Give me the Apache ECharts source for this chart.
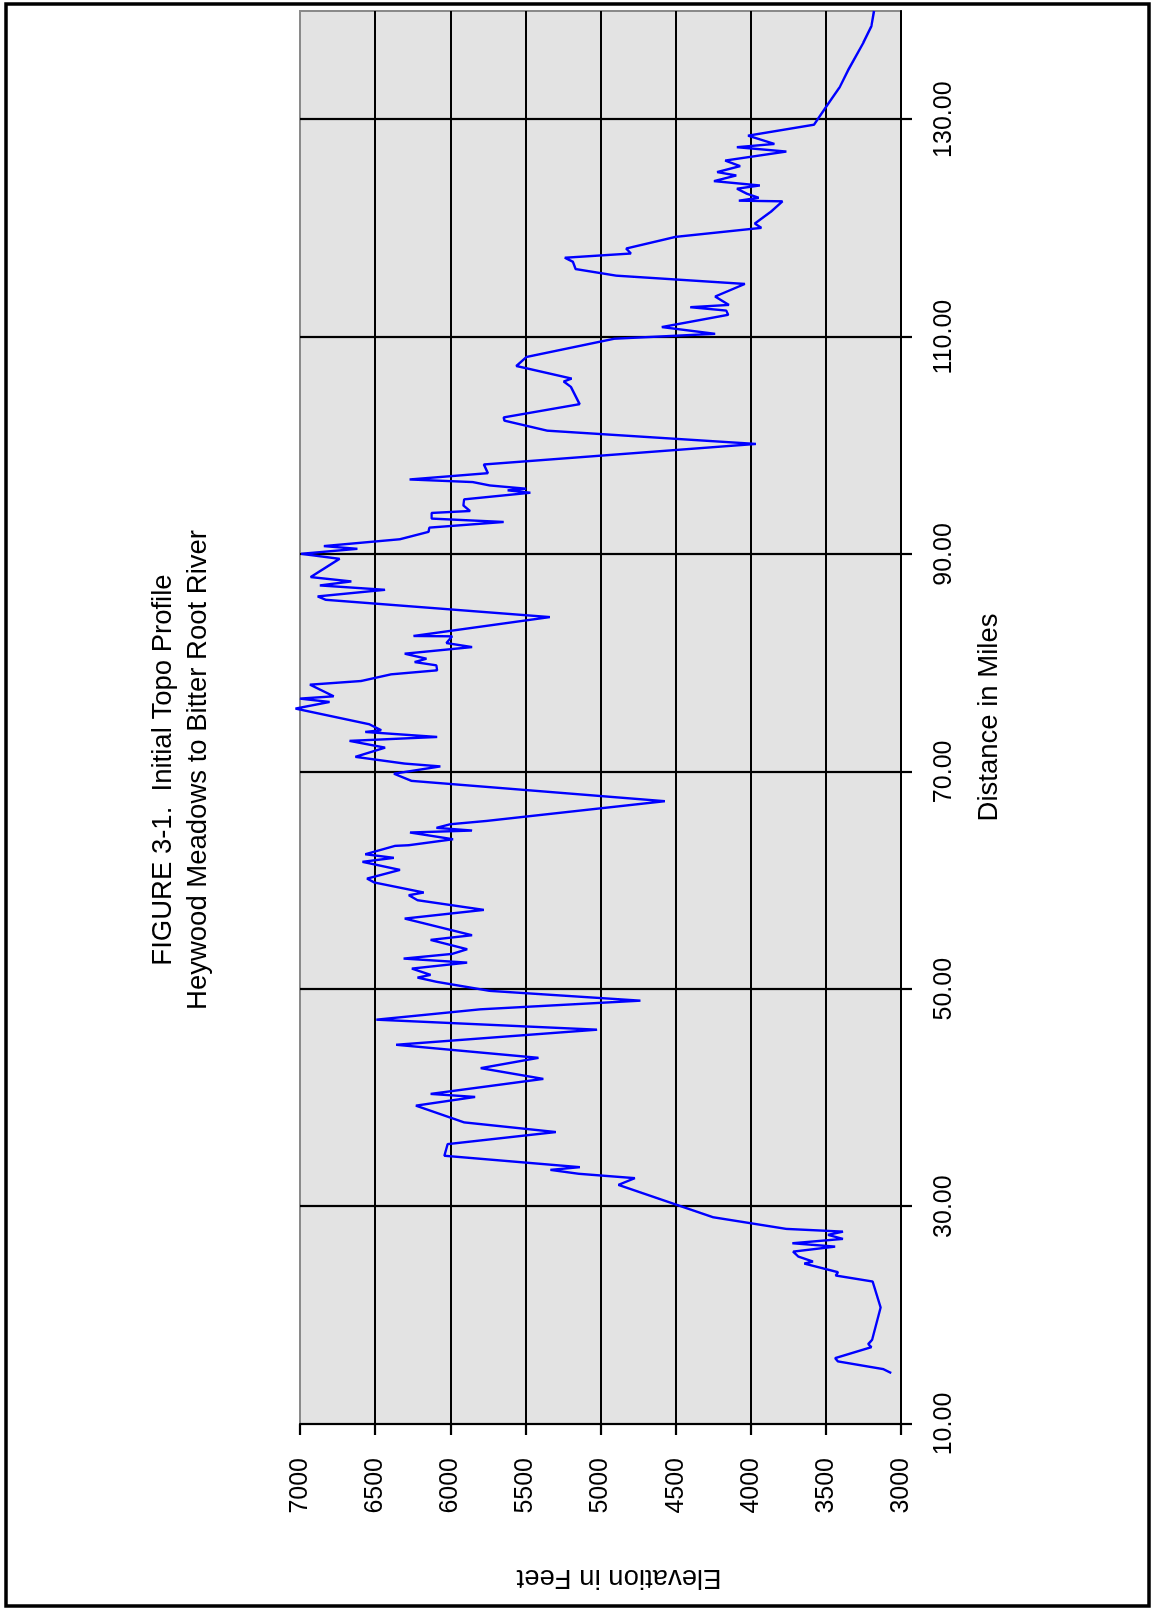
<!DOCTYPE html>
<html>
<head>
<meta charset="utf-8">
<script src="https://cdn.jsdelivr.net/npm/echarts@6/dist/echarts.min.js"></script>
<style>
html, body { margin: 0; padding: 0; background: #ffffff; overflow: hidden; width: 1153px; height: 1608px; }
#chart { position: absolute; left: 0; top: 0; width: 1608px; height: 1153px;
  transform-origin: 0 0; transform: translate(0, 1608px) rotate(-90deg); }
</style>
</head>
<body>
<div id="chart"></div>
<script>
// Distance along the route (miles) and ground elevation (feet), read from the profile
const distance = [
  14.69, 15.05, 15.76, 16.06, 17.07, 17.35, 17.75, 20.72, 23.11, 23.66,
  23.97, 24.76, 24.95, 25.41, 25.86, 26.32, 26.63, 27.03, 27.40, 27.70,
  27.95, 29.02, 32.00, 32.62, 33.02, 33.38, 33.63, 34.68, 35.75, 36.86,
  37.75, 39.29, 40.09, 40.37, 41.75, 42.74, 43.69, 44.89, 46.28, 47.20,
  48.15, 48.95, 49.85, 50.68, 51.07, 51.32, 51.90, 52.45, 52.82, 53.25,
  53.68, 54.54, 54.97, 56.50, 57.30, 58.19, 58.65, 58.90, 59.82, 60.18,
  60.98, 61.72, 62.09, 62.42, 63.19, 63.25, 63.80, 64.42, 64.60, 64.85,
  65.18, 65.49, 67.30, 69.17, 69.83, 70.50, 70.76, 71.38, 72.23, 72.85,
  73.21, 73.67, 73.83, 74.38, 75.82, 76.43, 76.74, 76.95, 78.02, 78.36,
  78.97, 79.34, 79.80, 80.10, 80.41, 80.87, 81.48, 81.85, 82.47, 82.50,
  84.24, 85.83, 86.14, 86.75, 87.15, 87.52, 87.92, 89.60, 90.06, 90.52,
  90.77, 91.40, 92.08, 92.47, 92.99, 93.30, 93.82, 94.00, 94.52, 95.07,
  95.68, 95.90, 96.05, 96.35, 96.66, 96.90, 97.48, 98.28, 100.17, 101.39,
  102.31, 102.61, 103.83, 105.42, 105.91, 106.18, 107.34, 108.17, 109.85, 110.30,
  110.92, 112.05, 112.44, 112.75, 112.96, 113.73, 114.89, 115.65, 116.26, 116.93,
  117.30, 117.69, 118.15, 119.22, 120.05, 120.44, 121.51, 122.49, 122.55, 122.82,
  123.19, 123.65, 123.95, 124.35, 124.87, 125.18, 125.73, 126.24, 127.07, 127.47,
  127.77, 128.53, 129.54, 131.44, 133.00, 134.60, 137.10, 138.60, 140.00
];
const elevation = [
  3065, 3118, 3420, 3439, 3197, 3218, 3192, 3136, 3189, 3434,
  3420, 3644, 3586, 3684, 3718, 3439, 3723, 3386, 3486, 3386,
  3763, 4250, 4881, 4771, 5144, 5334, 5137, 6039, 6018, 5297,
  5908, 6229, 5834, 6131, 5381, 5797, 5413, 6360, 5023, 6492,
  5802, 4734, 5737, 6090, 6218, 6131, 6255, 5887, 6310, 5987,
  5887, 6131, 5855, 6303, 5776, 6218, 6276, 6176, 6505, 6553,
  6334, 6584, 6376, 6566, 6368, 6276, 5981, 6268, 5855, 6092,
  6000, 5755, 4571, 6258, 6375, 6066, 6303, 6632, 6434, 6671,
  6087, 6566, 6460, 6539, 7030, 6803, 7000, 6776, 6934, 6592,
  6395, 6087, 6092, 6237, 6158, 6303, 5855, 6026, 5987, 6245,
  5337, 6829, 6882, 6434, 6868, 6658, 6929, 6737, 6992, 6618,
  6842, 6335, 6145, 6139, 5645, 6124, 6124, 5868, 5913, 5908,
  5466, 5618, 5495, 5737, 5850, 6271, 5750, 5776, 3965, 5355,
  5639, 5645, 5139, 5197, 5245, 5192, 5560, 5492, 4908, 4237,
  4592, 4150, 4163, 4403, 4145, 4237, 4039, 4894, 5166, 5184,
  5237, 4797, 4829, 4500, 3929, 3973, 3868, 3789, 4079, 3947,
  4026, 4092, 3939, 4245, 4097, 4224, 4071, 4171, 3763, 4092,
  3842, 4018, 3579, 3486, 3408, 3350, 3250, 3197, 3180
];
// Tick labels
const distanceTicks = [10, 30, 50, 70, 90, 110, 130];
const distanceMax = 140;
const elevationTicks = [3000, 3500, 4000, 4500, 5000, 5500, 6000, 6500, 7000];

const titleLines = ['FIGURE 3-1.  Initial Topo Profile', 'Heywood Meadows to Bitter Root River'];

const FONT = "'Liberation Sans', Arial, Helvetica, sans-serif";
const profile = distance.map((d, i) => [d, elevation[i]]);

const chart = echarts.init(document.getElementById('chart'), null, { renderer: 'canvas', width: 1608, height: 1153 });
chart.setOption({
  animation: false,
  backgroundColor: '#ffffff',
  grid: {
    left: 184, right: 11, top: 300, bottom: 252,
    show: true, backgroundColor: '#e3e3e3', borderColor: '#8a8a8a', borderWidth: 2
  },
  xAxis: {
    type: 'value',
    min: distanceTicks[0], max: distanceMax,
    interval: distanceTicks[1] - distanceTicks[0],
    axisLine: { show: true, onZero: false, lineStyle: { color: '#000', width: 2.2 } },
    axisTick: { show: true, inside: false, length: 11, lineStyle: { color: '#000', width: 2.2 } },
    axisLabel: { margin: 31, fontSize: 25, color: '#000', fontFamily: FONT, showMaxLabel: false,
      formatter: v => Number(v).toFixed(2) },
    splitLine: { show: true, showMinLine: false, showMaxLine: false, lineStyle: { color: '#000', width: 2.2 } },
    name: 'Distance in Miles', nameLocation: 'middle', nameGap: 74,
    nameTextStyle: { fontSize: 27.5, color: '#000', fontFamily: FONT }
  },
  yAxis: {
    type: 'value',
    min: elevationTicks[0], max: elevationTicks[elevationTicks.length - 1],
    interval: elevationTicks[1] - elevationTicks[0],
    axisLine: { show: true, onZero: false, lineStyle: { color: '#000', width: 2.2 } },
    axisTick: { show: true, inside: false, length: 11, lineStyle: { color: '#000', width: 2.2 } },
    axisLabel: { margin: 34, fontSize: 25, color: '#000', fontFamily: FONT,
      formatter: v => String(Math.round(v)) },
    splitLine: { show: true, showMinLine: false, showMaxLine: false, lineStyle: { color: '#000', width: 2.2 } },
    name: 'Elevation in Feet', nameLocation: 'middle', nameGap: 140,
    nameTextStyle: { fontSize: 27.5, color: '#000', fontFamily: FONT, padding: [0, 37, 0, 0] }
  },
  series: [{
    type: 'line',
    data: profile,
    showSymbol: false,
    symbol: 'none',
    clip: false,
    lineStyle: { color: '#0000ff', width: 2.4 },
    z: 5
  }],
  graphic: [
    { type: 'rect', silent: true, shape: { x: 2, y: 6, width: 1602, height: 1143 },
      style: { fill: 'none', stroke: '#000', lineWidth: 3.5 } },
    { type: 'text', silent: true, x: 838, y: 163,
      style: { text: titleLines[0], fontSize: 27.5, fontFamily: FONT, fill: '#000', align: 'center', verticalAlign: 'middle' } },
    { type: 'text', silent: true, x: 838, y: 198,
      style: { text: titleLines[1], fontSize: 27.5, fontFamily: FONT, fill: '#000', align: 'center', verticalAlign: 'middle' } }
  ]
});
</script>
</body>
</html>
